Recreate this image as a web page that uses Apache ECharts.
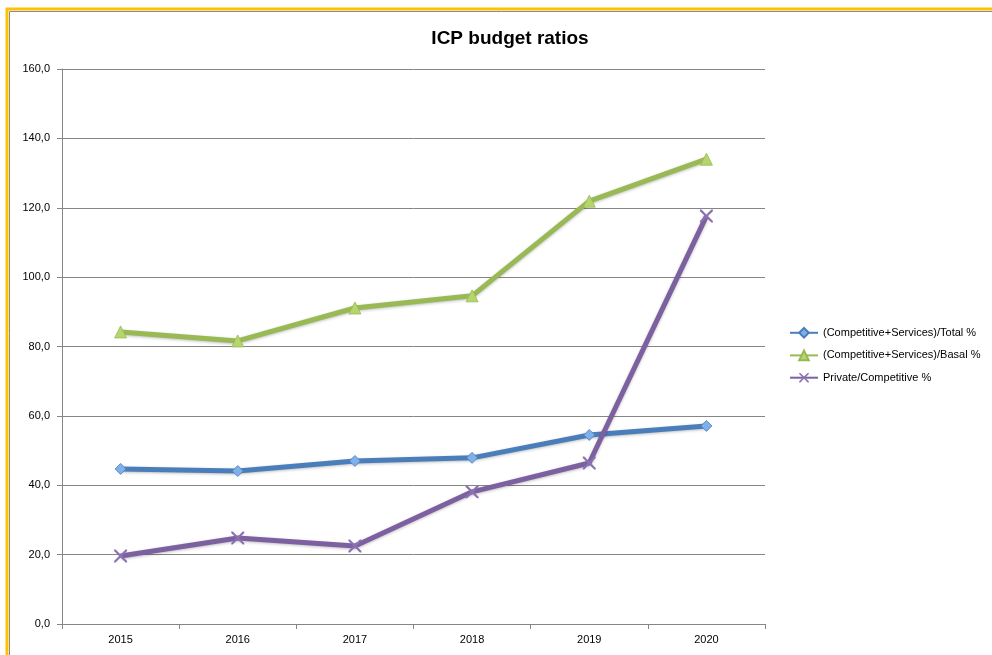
<!DOCTYPE html>
<html><head><meta charset="utf-8">
<script src="https://cdn.jsdelivr.net/npm/echarts@6/dist/echarts.min.js"></script>
<style>html,body{margin:0;padding:0;background:#fff}#c{width:992px;height:655px}</style>
</head><body><div id="c"></div>
<script>
var categories = ['2015','2016','2017','2018','2019','2020'];
var totalRatio = [44.7, 44.1, 47.0, 47.9, 54.5, 57.1];
var basalRatio = [84.2, 81.6, 91.1, 94.6, 121.9, 134.0];
var privateRatio = [19.6, 24.8, 22.5, 38.1, 46.4, 117.6];
var seriesNames = ['(Competitive+Services)/Total %', '(Competitive+Services)/Basal %', 'Private/Competitive %'];

var xPath = 'path://M0,0L1.2,0L5,3.8L8.8,0L10,0L10,1.2L6.2,5L10,8.8L10,10L8.8,10L5,6.2L1.2,10L0,10L0,8.8L3.8,5L0,1.2Z';
var font = 'Liberation Sans';
var chart = echarts.init(document.getElementById('c'));
chart.setOption({
  animation: false,
  backgroundColor: '#fff',
  title: { text: 'ICP budget ratios', left: 505, textAlign: 'center', top: 24,
    textStyle: { fontFamily: font, fontSize: 19, fontWeight: 'bold', color: '#000' } },
  graphic: [
    { type: 'rect', shape: { x: 7, y: 9, width: 1200, height: 1000 }, style: { fill: 'none', stroke: '#FFC000', lineWidth: 3 }, silent: true },
    { type: 'rect', shape: { x: 9.5, y: 11.5, width: 1200, height: 1000 }, style: { fill: 'none', stroke: '#8a8a8a', lineWidth: 1 }, silent: true }
  ],
  legend: {
    orient: 'vertical', left: 784, top: 322, itemGap: 11, itemWidth: 28, itemHeight: 12,
    textStyle: { fontFamily: font, fontSize: 11, color: '#000' },
    data: seriesNames
  },
  grid: { left: 62, right: 227, top: 69, bottom: 31, containLabel: false },
  xAxis: {
    type: 'category', data: categories, boundaryGap: true,
    axisLine: { lineStyle: { color: '#868686', width: 1 } },
    axisTick: { show: true, length: 5, lineStyle: { color: '#868686' } },
    axisLabel: { fontFamily: font, fontSize: 11, color: '#000', margin: 10 }
  },
  yAxis: {
    type: 'value', min: 0, max: 160, interval: 20,
    axisLine: { show: true, lineStyle: { color: '#868686', width: 1 } },
    axisTick: { show: true, length: 5, lineStyle: { color: '#868686' } },
    splitLine: { lineStyle: { color: '#868686', width: 1 } },
    axisLabel: { fontFamily: font, fontSize: 11, color: '#000', margin: 12,
      formatter: function (v) { return v.toFixed(1).replace('.', ','); } }
  },
  series: [
    { name: seriesNames[0], type: 'line', data: totalRatio, symbol: 'diamond', symbolSize: 11,
      lineStyle: { color: '#4A7EBB', width: 5, shadowBlur: 3, shadowColor: 'rgba(0,0,0,0.25)', shadowOffsetY: 1 },
      itemStyle: { color: '#7FB0EA', borderColor: '#4A7EBB', borderWidth: 0.8 } },
    { name: seriesNames[1], type: 'line', data: basalRatio, symbol: 'triangle', symbolSize: 12,
      lineStyle: { color: '#98B954', width: 5, shadowBlur: 3, shadowColor: 'rgba(0,0,0,0.25)', shadowOffsetY: 1 },
      itemStyle: { color: '#B5D66F', borderColor: '#98B954', borderWidth: 0.8 } },
    { name: seriesNames[2], type: 'line', data: privateRatio, symbol: xPath, symbolSize: 13,
      lineStyle: { color: '#7D60A0', width: 5, shadowBlur: 3, shadowColor: 'rgba(0,0,0,0.25)', shadowOffsetY: 1 },
      itemStyle: { color: '#8A72B0' } }
  ]
});
</script></body></html>
